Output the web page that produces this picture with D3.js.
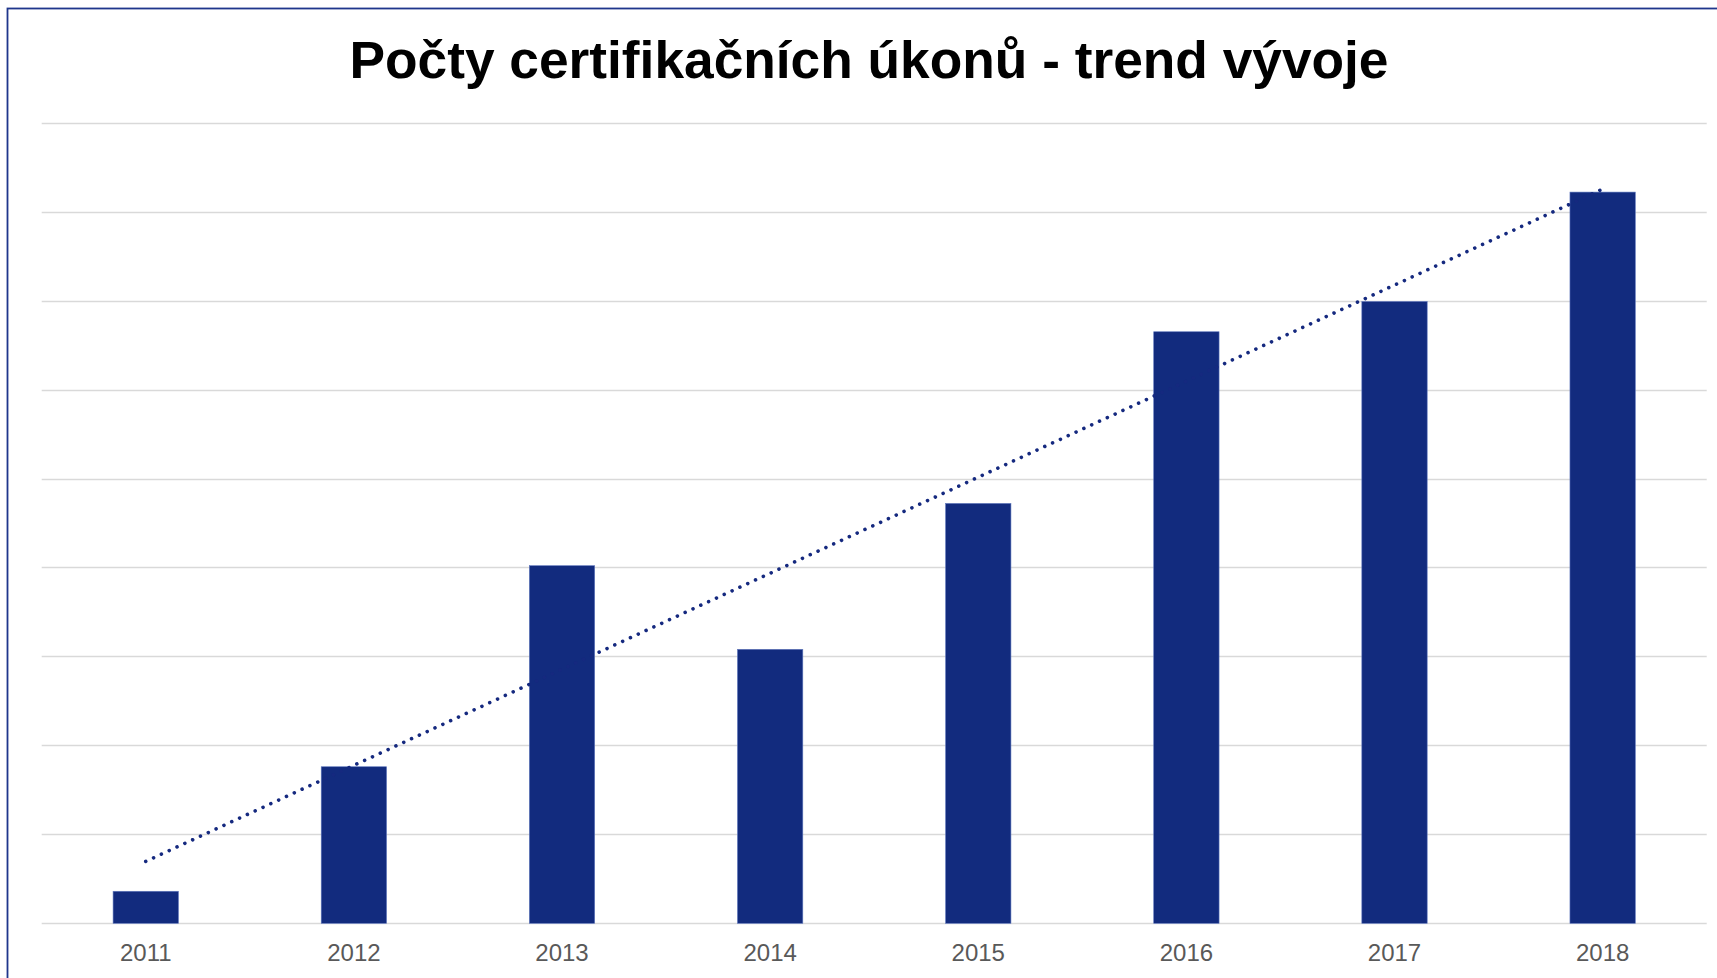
<!DOCTYPE html>
<html>
<head>
<meta charset="utf-8">
<script src="https://cdn.jsdelivr.net/npm/d3@7"></script>
<style>
  html, body { margin: 0; padding: 0; background: #fff; overflow: hidden; }
  svg { display: block; }
</style>
</head>
<body>
<div id="chart"></div>
<script>
// data (y axis has no labels, units are estimated)
var years = ["2011", "2012", "2013", "2014", "2015", "2016", "2017", "2018"];
var counts = [36, 176, 402, 308, 472, 665, 699, 822];
var gridTicks = [0, 100, 200, 300, 400, 500, 600, 700, 800, 900];
var title = "Počty certifikačních úkonů - trend vývoje";

var width = 1717, height = 978;
var barColor = "#122b7e";

var svg = d3.select("#chart").append("svg")
  .attr("width", width)
  .attr("height", height);

// outer frame, runs off the right and bottom edge
svg.append("rect")
  .attr("x", 7.5).attr("y", 8.5)
  .attr("width", width + 20).attr("height", height + 20)
  .attr("fill", "none")
  .attr("stroke", "#1f368c")
  .attr("stroke-width", 1.8);

svg.append("text")
  .attr("x", 869)
  .attr("y", 78)
  .attr("text-anchor", "middle")
  .attr("textLength", 1039)
  .attr("lengthAdjust", "spacingAndGlyphs")
  .style("font-family", "'Liberation Sans', Arial, sans-serif")
  .style("font-weight", "bold")
  .style("font-size", "51px")
  .style("fill", "#000")
  .text(title);

var x = d3.scaleBand()
  .domain(years)
  .range([41.7, 1706.7])
  .paddingInner(0.686)
  .paddingOuter(0.343);

var y = d3.scaleLinear()
  .domain([0, 900])
  .range([923.3, 122.7]);

// gridlines
svg.append("g")
  .selectAll("line")
  .data(gridTicks)
  .enter()
  .append("line")
  .attr("x1", 41.7)
  .attr("x2", 1706.7)
  .attr("y1", function (d) { return Math.round(y(d)) + 0.5; })
  .attr("y2", function (d) { return Math.round(y(d)) + 0.5; })
  .attr("stroke", "#d9d9d9")
  .attr("stroke-width", 1.5);

// bars
svg.append("g")
  .selectAll("rect")
  .data(counts)
  .enter()
  .append("rect")
  .attr("x", function (d, i) { return x(years[i]); })
  .attr("y", function (d) { return y(d); })
  .attr("width", x.bandwidth())
  .attr("height", function (d) { return y(0) - y(d); })
  .attr("fill", barColor)
  .attr("stroke", "#5f77bd")
  .attr("stroke-width", 0.6);

// linear trend line (least squares over the bars)
var n = counts.length;
var mx = d3.mean(d3.range(n));
var my = d3.mean(counts);
var slope = d3.sum(counts, function (v, i) { return (i - mx) * (v - my); }) /
            d3.sum(d3.range(n), function (i) { return (i - mx) * (i - mx); });
var icpt = my - slope * mx;

var trend = [0, n - 1].map(function (i) {
  return [x(years[i]) + x.bandwidth() / 2, y(icpt + slope * i)];
});

svg.append("path")
  .attr("d", d3.line()(trend))
  .attr("fill", "none")
  .attr("stroke", "#15297f")
  .attr("stroke-width", 3.6)
  .attr("stroke-linecap", "round")
  .attr("stroke-dasharray", "0.01 8.6");

// x labels
svg.append("g")
  .selectAll("text")
  .data(years)
  .enter()
  .append("text")
  .attr("x", function (d) { return x(d) + x.bandwidth() / 2; })
  .attr("y", 961)
  .attr("text-anchor", "middle")
  .style("font-family", "'Liberation Sans', Arial, sans-serif")
  .style("font-size", "24px")
  .style("fill", "#595959")
  .text(function (d) { return d; });
</script>
</body>
</html>
